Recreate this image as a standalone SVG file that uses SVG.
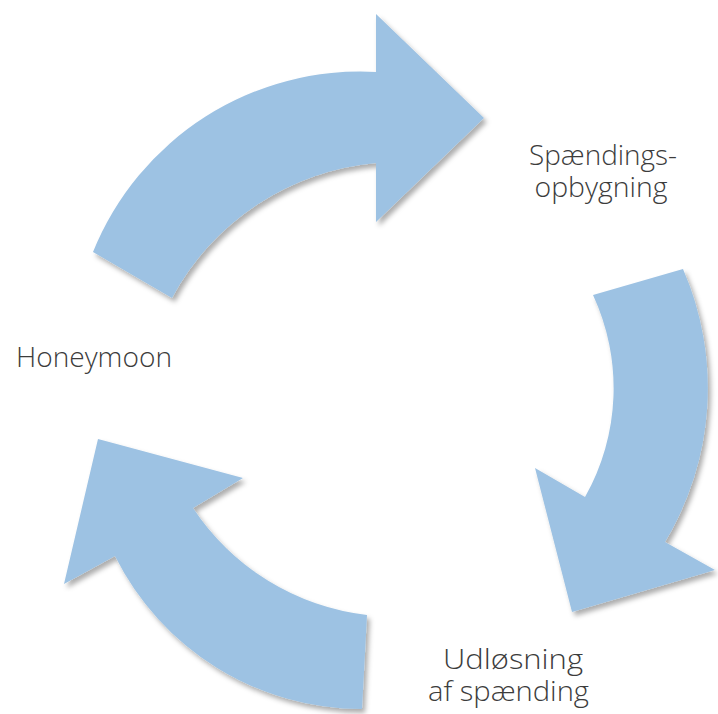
<svg xmlns="http://www.w3.org/2000/svg" width="718" height="714" viewBox="0 0 718 714">
  <defs>
    <filter id="soft-shadow" x="-10%" y="-10%" width="125%" height="125%">
      <feDropShadow dx="3" dy="4" stdDeviation="2.5" flood-color="#000000" flood-opacity="0.32"/>
    </filter>
  </defs>
  <style>
    .arrow { fill: #9dc2e3; filter: url(#soft-shadow); }
    .label { font-family: "Open Sans", "Noto Sans", "Liberation Sans", sans-serif; font-size: 27px; font-weight: 300; fill: #3c3c3c; }
  </style>

  <rect width="718" height="714" fill="#ffffff"/>

  <!-- cycle arrows -->
  <g id="connectors">
    <path id="arrow-top" class="arrow" d="M 93 252 A 288 288 0 0 1 376 72 L 376 14 L 484 118 L 376 222 L 376 163 A 258 258 0 0 0 172 298 Z"/>
    <path id="arrow-right" class="arrow" d="M 683 269 A 298 298 0 0 1 665 542 L 715 570 L 572 612 L 535 468 L 585 497 A 221 221 0 0 0 593 295 Z"/>
    <path id="arrow-bottom-left" class="arrow" d="M 367 615 A 242 242 0 0 1 193 508 L 243 478 L 98 439 L 64 584 L 115 556 A 276 276 0 0 0 362 709 Z"/>
  </g>

  <!-- stage labels -->
  <g id="stage-tension">
    <text class="label" x="603" y="165" text-anchor="middle" textLength="148" lengthAdjust="spacingAndGlyphs">Spændings-</text>
    <text class="label" x="601" y="197" text-anchor="middle" textLength="133" lengthAdjust="spacingAndGlyphs">opbygning</text>
  </g>
  <g id="stage-release">
    <text class="label" x="513" y="669" text-anchor="middle" textLength="140" lengthAdjust="spacingAndGlyphs">Udløsning</text>
    <text class="label" x="508.5" y="701" text-anchor="middle" textLength="161" lengthAdjust="spacingAndGlyphs">af spænding</text>
  </g>
  <g id="stage-honeymoon">
    <text class="label" x="16" y="367" textLength="156" lengthAdjust="spacingAndGlyphs">Honeymoon</text>
  </g>
</svg>
